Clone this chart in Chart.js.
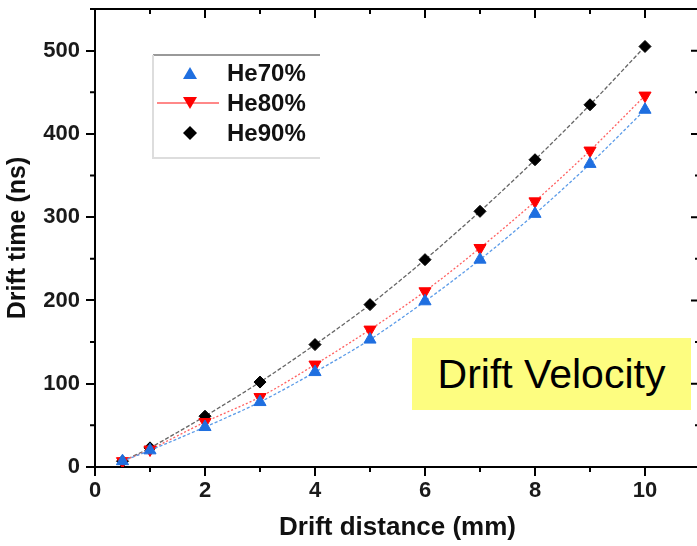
<!DOCTYPE html>
<html>
<head>
<meta charset="utf-8">
<script src="https://cdn.jsdelivr.net/npm/chart.js@4"></script>
<style>
  html, body { margin: 0; padding: 0; background: #fff; overflow: hidden; }
  #wrap { position: relative; width: 710px; height: 546px; }
  #tag {
    position: absolute; left: 412px; top: 338px; width: 279px; height: 72px;
    background: #fdfd80; color: #000;
    font-family: 'Liberation Sans', Arial, sans-serif; font-size: 41px;
    line-height: 72px; text-align: center;
  }
</style>
</head>
<body>
<div id="wrap">
  <canvas id="chart" width="710" height="546"></canvas>
  <div id="tag">Drift Velocity</div>
</div>
<script>
const distance = [0.5, 1, 2, 3, 4, 5, 6, 7, 8, 9, 10];
const he70 = [7, 20, 48, 78, 114, 153, 199, 249, 304, 364, 429];
const he80 = [7, 21, 54, 84, 123, 165, 211, 263, 319, 380, 446];
const he90 = [7, 23, 61, 102, 147, 195, 249, 307, 369, 435, 505];
const seriesNames = ['He70%', 'He80%', 'He90%'];
const xTicks = [0, 2, 4, 6, 8, 10];
const yTicks = [0, 100, 200, 300, 400, 500];

const FONT = "'Liberation Sans', Arial, sans-serif";
const pts = ys => distance.map((x, i) => ({ x: x, y: ys[i] }));

// frame: top line, minor ticks, inner ticks on top and right, and the legend box
const frame = {
    id: 'frame',
    afterDraw(chart) {
        const ctx = chart.ctx, a = chart.chartArea;
        const xs = chart.scales.x, ys = chart.scales.y;
        ctx.save();
        ctx.strokeStyle = '#000';
        ctx.lineWidth = 2;
        ctx.beginPath();
        ctx.moveTo(a.left - 1, a.top); ctx.lineTo(a.right + 1, a.top);
        ctx.moveTo(a.right, a.top); ctx.lineTo(a.right, a.bottom);
        for (let v = 0; v <= 11; v++) {
            const px = xs.getPixelForValue(v), len = v % 2 === 0 ? 9 : 5;
            ctx.moveTo(px, a.top); ctx.lineTo(px, a.top + len);
            if (v % 2) { ctx.moveTo(px, a.bottom); ctx.lineTo(px, a.bottom + len); }
        }
        for (let v = 0; v <= 550; v += 50) {
            const py = ys.getPixelForValue(v), len = v % 100 === 0 ? 9 : 5;
            ctx.moveTo(a.right, py); ctx.lineTo(a.right - len, py);
            if (v % 100) { ctx.moveTo(a.left, py); ctx.lineTo(a.left - len, py); }
        }
        ctx.stroke();

        // legend
        const lx = 153, ly = 55, lw = 167, lh = 103;
        ctx.lineWidth = 2;
        ctx.strokeStyle = '#999';
        ctx.beginPath(); ctx.moveTo(lx, ly); ctx.lineTo(lx + lw, ly); ctx.stroke();
        ctx.strokeStyle = '#ddd';
        ctx.beginPath(); ctx.moveTo(lx, ly); ctx.lineTo(lx, ly + lh); ctx.lineTo(lx + lw, ly + lh); ctx.stroke();

        const rows = [73, 103, 133];
        chart.data.datasets.forEach((ds, i) => {
            const cy = rows[i], cx = 190;
            if (ds.showLegendLine) {
                ctx.strokeStyle = ds.borderColor; ctx.lineWidth = 1.5;
                ctx.beginPath(); ctx.moveTo(157, cy); ctx.lineTo(219, cy); ctx.stroke();
            }
            ctx.fillStyle = ds.pointBackgroundColor;
            ctx.beginPath();
            if (ds.pointStyle === 'rectRot') {
                ctx.moveTo(cx, cy - 7); ctx.lineTo(cx + 7, cy); ctx.lineTo(cx, cy + 7); ctx.lineTo(cx - 7, cy);
            } else if (ds.pointRotation === 180) {
                ctx.moveTo(cx - 7, cy - 6); ctx.lineTo(cx + 7, cy - 6); ctx.lineTo(cx, cy + 6);
            } else {
                ctx.moveTo(cx - 7, cy + 6); ctx.lineTo(cx + 7, cy + 6); ctx.lineTo(cx, cy - 6);
            }
            ctx.closePath(); ctx.fill();
            ctx.fillStyle = '#111';
            ctx.font = 'bold 24px ' + FONT;
            ctx.textBaseline = 'middle';
            ctx.fillText(ds.label, 227, cy + 1);
        });
        ctx.restore();
    }
};

new Chart(document.getElementById('chart'), {
    type: 'line',
    data: {
        datasets: [{
            label: seriesNames[0],
            data: pts(he70),
            borderColor: '#5b9be8',
            pointBackgroundColor: '#1f6fe0',
            pointBorderColor: '#1f6fe0',
            pointStyle: 'triangle',
            pointRadius: 7,
            borderDash: [3, 2]
        }, {
            label: seriesNames[1],
            data: pts(he80),
            borderColor: '#ff6060',
            pointBackgroundColor: '#ff0000',
            pointBorderColor: '#ff0000',
            pointStyle: 'triangle',
            pointRotation: 180,
            pointRadius: 7,
            borderDash: [2, 2],
            showLegendLine: true
        }, {
            label: seriesNames[2],
            data: pts(he90),
            borderColor: '#666',
            pointBackgroundColor: '#000',
            pointBorderColor: '#000',
            pointStyle: 'rectRot',
            pointRadius: 6,
            borderDash: [4, 2]
        }]
    },
    options: {
        responsive: false,
        animation: false,
        devicePixelRatio: 1,
        layout: { padding: { top: 9, right: 10, left: 0, bottom: 0 } },
        elements: {
            line: { borderWidth: 1.3, tension: 0.3, fill: false },
            point: { borderWidth: 1 }
        },
        plugins: {
            legend: { display: false },
            tooltip: { enabled: false }
        },
        scales: {
            x: {
                type: 'linear',
                min: 0, max: 11,
                afterFit: s => { s.height = 79; s.paddingLeft = 0; s.paddingRight = 0; },
                afterBuildTicks: s => { s.ticks = xTicks.map(v => ({ value: v })); },
                border: { display: true, color: '#000', width: 2 },
                grid: { display: true, drawOnChartArea: false, drawTicks: true, tickLength: 9, color: '#000', lineWidth: 2 },
                ticks: { color: '#1a1a1a', padding: 2, font: { family: FONT, size: 22, weight: 'bold' } },
                title: {
                    display: true, text: 'Drift distance (mm)', color: '#111',
                    font: { family: FONT, size: 26, weight: 'bold' },
                    padding: { top: 0, bottom: 3 }
                }
            },
            y: {
                min: 0, max: 550,
                afterFit: s => { s.width = 95; s.paddingTop = 0; s.paddingBottom = 0; },
                afterBuildTicks: s => { s.ticks = yTicks.map(v => ({ value: v })); },
                border: { display: true, color: '#000', width: 2 },
                grid: { display: true, drawOnChartArea: false, drawTicks: true, tickLength: 9, color: '#000', lineWidth: 2 },
                ticks: { color: '#1a1a1a', padding: 6, font: { family: FONT, size: 22, weight: 'bold' } },
                title: {
                    display: true, text: 'Drift time (ns)', color: '#111',
                    font: { family: FONT, size: 25, weight: 'bold' },
                    padding: { top: 3, bottom: 0 }
                }
            }
        }
    },
    plugins: [frame]
});
</script>
</body>
</html>
